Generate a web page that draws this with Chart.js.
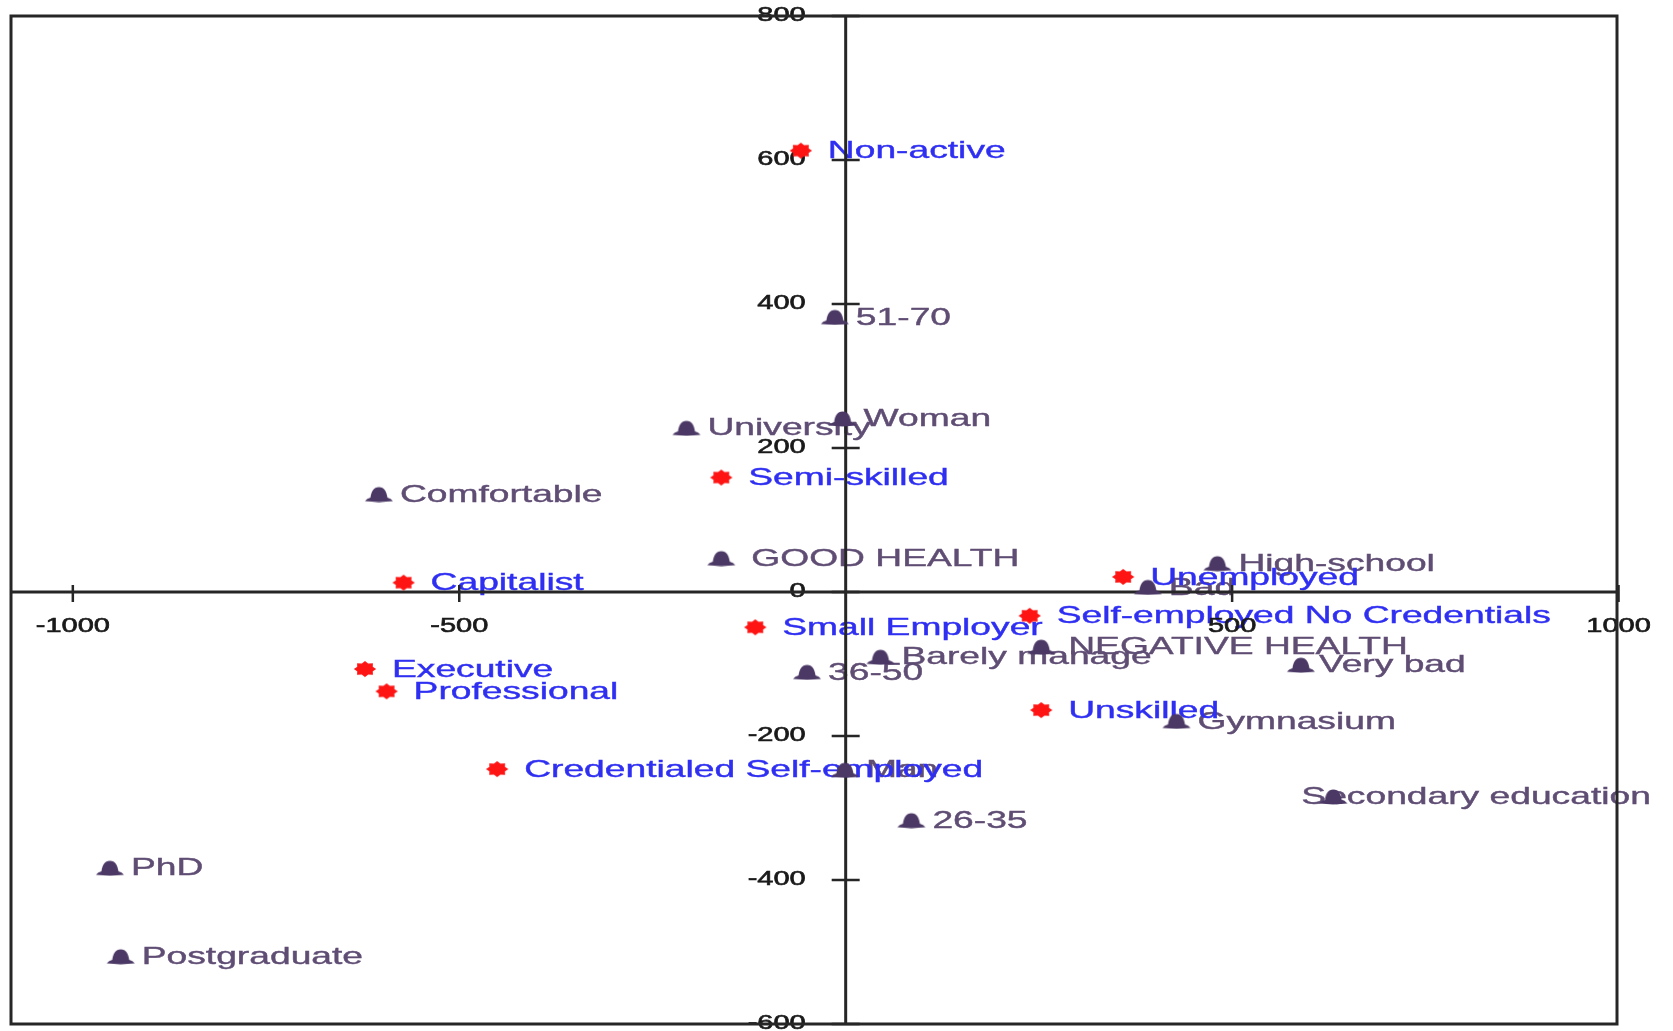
<!DOCTYPE html>
<html>
<head>
<meta charset="utf-8">
<title>Class positions and social attributes</title>
<script src="https://cdn.jsdelivr.net/npm/chart.js@4.4.1/dist/chart.umd.min.js"></script>
<style>
  html, body { margin: 0; padding: 0; background: #fff; }
  #wrap { width: 1673px; height: 1031px; }
  canvas { filter: blur(0.5px); }
</style>
</head>
<body>
<div id="wrap"><canvas id="map" width="1673" height="1031"></canvas></div>
<script>
// Class positions (red stars, blue labels)
const classLabels = ['Non-active', 'Semi-skilled', 'Capitalist', 'Unemployed', 'Small Employer',
  'Self-employed No Credentials', 'Executive', 'Professional', 'Unskilled', 'Credentialed Self-employed'];
const classX = [-58, -161, -572, 359, -117, 238, -622, -594, 253, -451];
const classY = [613, 159, 13, 21, -49, -33, -107, -138, -164, -246];

// Social attributes (purple markers, grey-purple labels)
const attrLabels = ['51-70', 'Woman', 'University', 'Comfortable', 'GOOD HEALTH', 'High-school', 'Bad',
  'Barely manage', 'NEGATIVE HEALTH', '36-50', 'Very bad', 'Gymnasium', 'Man', '26-35',
  'Secondary education', 'PhD', 'Postgraduate'];
const attrX = [-14, -4, -206, -604, -161, 481, 391, 45, 253, -50, 589, 428, -1, 85, 631, -952, -938];
const attrY = [382, 241, 228, 136, 47, 40, 7, -90, -76, -111, -101, -179, -247, -317, -284, -383, -506];

// Axis ticks
const xTickValues = [-1000, -500, 500, 1000];
const yTickValues = [-600, -400, -200, 0, 200, 400, 600, 800];

// Label placement (text start relative to marker centre, px)
const labelGap = { classes: 27, attrs: 21 };
const labelGapOverride = { 'GOOD HEALTH': 30, 'NEGATIVE HEALTH': 27, 'Secondary education': -32, 'Very bad': 18 };

const TEXT_STRETCH = 1.55;
const TICK_STRETCH = 1.45;
const AXIS_COLOR = '#262626';

// bell-shaped marker with a flared base
function makeBell() {
  const c = document.createElement('canvas');
  c.width = 30; c.height = 17;
  const g = c.getContext('2d');
  g.fillStyle = '#4b3865';
  g.beginPath();
  g.moveTo(1, 15.5);
  g.quadraticCurveTo(3, 12.5, 6.5, 12);
  g.bezierCurveTo(7.5, 6, 9.5, 1.5, 15, 1.5);
  g.bezierCurveTo(20.5, 1.5, 22.5, 6, 23.5, 12);
  g.quadraticCurveTo(27, 12.5, 29, 15.5);
  g.lineTo(15, 16.5);
  g.closePath();
  g.fill();
  return c;
}

// small red starburst
function makeBurst() {
  const c = document.createElement('canvas');
  c.width = 26; c.height = 18;
  const g = c.getContext('2d');
  g.fillStyle = '#ff1414';
  g.beginPath();
  const n = 8, ro = 8, ri = 6;
  for (let i = 0; i < n * 2; i++) {
    const r = i % 2 === 0 ? ro : ri;
    const a = -Math.PI / 2 + i * Math.PI / n;
    const px = 13 + Math.cos(a) * r * 1.4;
    const py = 9 + Math.sin(a) * r;
    if (i === 0) g.moveTo(px, py); else g.lineTo(px, py);
  }
  g.closePath();
  g.fill();
  return c;
}

function stretchedText(ctx, text, x, y, align, k, outline) {
  ctx.save();
  ctx.translate(x, y);
  ctx.scale(k, 1);
  ctx.textAlign = align || 'left';
  ctx.fillText(text, 0, 0);
  if (outline) {
    ctx.strokeStyle = ctx.fillStyle;
    ctx.lineWidth = outline;
    ctx.strokeText(text, 0, 0);
  }
  ctx.restore();
}

const mapDecor = {
  id: 'mapDecor',
  beforeDatasetsDraw(chart) {
    const ctx = chart.ctx;
    const xs = chart.scales.x, ys = chart.scales.y;
    const area = chart.chartArea;
    const x0 = xs.getPixelForValue(0);
    const y0 = ys.getPixelForValue(0);

    // point labels
    ctx.save();
    ctx.font = '24px "Liberation Sans", Arial, sans-serif';
    ctx.textBaseline = 'middle';
    chart.data.datasets.forEach((ds) => {
      ctx.fillStyle = ds.labelColor;
      ds.data.forEach((p) => {
        const px = xs.getPixelForValue(p.x);
        const py = ys.getPixelForValue(p.y);
        const gap = (p.name in labelGapOverride) ? labelGapOverride[p.name] : ds.labelGap;
        stretchedText(ctx, p.name, px + gap, py + 1, 'left', TEXT_STRETCH, 0.4);
      });
    });
    ctx.restore();

    // tick labels
    ctx.save();
    ctx.font = '20px "Liberation Sans", Arial, sans-serif';
    ctx.fillStyle = '#1a1a1a';
    ctx.textBaseline = 'middle';
    yTickValues.forEach((v) => {
      const py = ys.getPixelForValue(v);
      const textW = ctx.measureText(String(v)).width * TICK_STRETCH;
      stretchedText(ctx, String(v), x0 - 40 - textW, py - 1, 'left', TICK_STRETCH, 0.6);
    });
    xTickValues.forEach((v) => {
      const px = xs.getPixelForValue(v);
      stretchedText(ctx, String(v), px, y0 + 34, 'center', TICK_STRETCH, 0.6);
    });
    ctx.restore();

    // axes through the origin, tick marks, frame
    ctx.save();
    ctx.strokeStyle = AXIS_COLOR;
    ctx.lineWidth = 3;
    ctx.beginPath();
    ctx.moveTo(area.left, y0); ctx.lineTo(area.right, y0);
    ctx.moveTo(x0, area.top); ctx.lineTo(x0, area.bottom);
    ctx.stroke();
    ctx.lineWidth = 2.5;
    ctx.beginPath();
    yTickValues.forEach((v) => {
      const py = ys.getPixelForValue(v);
      ctx.moveTo(x0 - 14, py); ctx.lineTo(x0 + 14, py);
    });
    xTickValues.forEach((v) => {
      const px = xs.getPixelForValue(v);
      ctx.moveTo(px, y0 - 7); ctx.lineTo(px, y0 + 10);
    });
    ctx.stroke();
    ctx.lineWidth = 3;
    ctx.strokeRect(area.left, area.top, area.right - area.left, area.bottom - area.top);
    ctx.restore();
  }
};

const bell = makeBell();
const burst = makeBurst();

new Chart(document.getElementById('map'), {
  type: 'scatter',
  data: {
    datasets: [
      {
        label: 'Attributes',
        data: attrLabels.map((n, i) => ({ x: attrX[i], y: attrY[i], name: n })),
        pointStyle: bell,
        labelColor: '#5f4d74',
        labelGap: labelGap.attrs
      },
      {
        label: 'Classes',
        data: classLabels.map((n, i) => ({ x: classX[i], y: classY[i], name: n })),
        pointStyle: burst,
        labelColor: '#2f2ff2',
        labelGap: labelGap.classes
      }
    ]
  },
  options: {
    responsive: false,
    animation: false,
    devicePixelRatio: 1,
    layout: { padding: { left: 11, top: 16, right: 56, bottom: 7 } },
    plugins: { legend: { display: false }, tooltip: { enabled: false } },
    scales: {
      x: { type: 'linear', min: -1080, max: 998, display: false },
      y: { type: 'linear', min: -600, max: 800, display: false }
    }
  },
  plugins: [mapDecor]
});
</script>
</body>
</html>
